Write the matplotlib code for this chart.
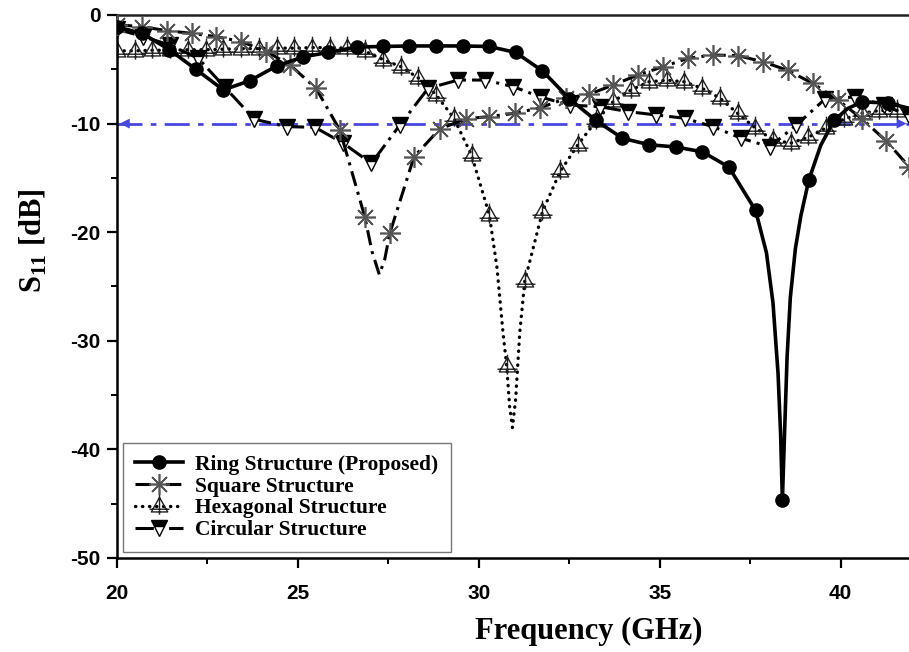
# S11 comparison of the four unit-cell structures
import matplotlib.pyplot as plt
from matplotlib.path import Path
from matplotlib.ticker import MultipleLocator

plt.rcParams['mathtext.fontset'] = 'custom'
plt.rcParams['mathtext.rm'] = 'Liberation Serif:bold'
plt.rcParams['axes.unicode_minus'] = False

# ring structure (proposed)
ring_f = [20.0, 20.7, 21.45, 22.18, 22.94, 23.67, 24.41, 25.15, 25.84, 26.62, 27.34, 28.08,
          28.81, 29.55, 30.29, 31.02, 31.76, 32.5, 33.23, 33.97, 34.71, 35.44, 36.18, 36.91,
          37.65, 37.95, 38.13, 38.27, 38.34, 38.39, 38.45, 38.52, 38.61, 38.75, 38.9, 39.12,
          39.45, 39.82, 40.2, 40.6, 41.31, 41.9]
ring_s = [-1.1, -1.7, -3.2, -5.0, -6.9, -6.05, -4.7, -3.85, -3.45, -2.95, -2.9, -2.85,
          -2.85, -2.85, -2.9, -3.45, -5.15, -7.7, -9.7, -11.35, -11.95, -12.15, -12.6, -14.0,
          -18.0, -21.9, -26.5, -33.0, -38.5, -44.7, -38.5, -31.5, -26.0, -21.5, -18.5, -15.2,
          -12.0, -9.7, -8.6, -8.0, -8.1, -8.6]

# square structure
sq_f = [20.0, 20.68, 21.37, 22.06, 22.75, 23.44, 24.13, 24.78, 25.5, 26.16, 26.85, 27.05,
        27.25, 27.4, 27.54, 28.21, 28.92, 29.64, 30.29, 30.99, 31.69, 32.42, 33.05, 33.71,
        34.4, 35.09, 35.78, 36.47, 37.16, 37.85, 38.54, 39.23, 39.93, 40.6, 41.26, 41.9]
sq_s = [-0.9, -1.07, -1.44, -1.69, -2.0, -2.45, -3.37, -4.6, -6.75, -10.6, -18.6, -21.8,
        -23.9, -22.5, -20.1, -13.05, -10.5, -9.55, -9.36, -9.05, -8.55, -7.67, -7.3, -6.45,
        -5.52, -4.76, -3.99, -3.68, -3.74, -4.3, -5.1, -6.3, -7.83, -9.6, -11.6, -14.0]

# hexagonal structure
hex_f = [20.0, 20.49, 20.98, 21.47, 21.96, 22.45, 22.94, 23.43, 23.92, 24.41, 24.9, 25.39,
         25.88, 26.37, 26.86, 27.35, 27.84, 28.33, 28.82, 29.31, 29.8, 30.29, 30.5, 30.67,
         30.77, 30.85, 30.93, 31.02, 31.13, 31.27, 31.76, 32.25, 32.74, 33.23, 33.72, 34.21,
         34.7, 35.19, 35.68, 36.17, 36.66, 37.15, 37.64, 38.13, 38.62, 39.11, 39.6, 40.09,
         40.58, 41.07, 41.56]
hex_s = [-3.3, -3.3, -3.25, -3.25, -3.2, -3.2, -3.15, -3.1, -3.1, -3.05, -3.05, -3.0,
         -3.0, -3.05, -3.35, -4.1, -4.75, -5.8, -7.35, -9.5, -12.9, -18.4, -23.2, -29.3,
         -32.3, -36.0, -38.0, -35.3, -29.3, -24.5, -18.1, -14.4, -11.95, -9.8, -7.95, -6.9,
         -6.15, -6.0, -6.15, -6.75, -7.65, -9.05, -10.4, -11.5, -11.8, -11.25, -10.4, -9.6,
         -9.05, -8.8, -8.8]

# circular structure
circ_f = [20.0, 20.73, 21.46, 22.25, 22.98, 23.8, 24.69, 25.47, 26.25, 27.03, 27.82, 28.6,
          29.43, 30.17, 30.95, 31.73, 32.51, 33.34, 34.13, 34.89, 35.69, 36.47, 37.26, 38.04,
          38.78, 39.58, 40.4, 41.2, 41.9]
circ_s = [-1.3, -2.0, -2.76, -4.0, -6.66, -9.6, -10.28, -10.34, -11.8, -13.66, -10.13, -6.75,
          -5.99, -5.99, -6.6, -7.58, -8.29, -8.44, -8.9, -9.2, -9.51, -10.28, -11.36, -12.13,
          -10.13, -7.7, -7.55, -8.3, -9.3]

ref_level = -10

# pontos com marcador (os outros so dao forma a curva)
ring_mk = list(range(0, 25)) + [29, 35, 37, 39, 40]
sq_mk = [i for i in range(len(sq_f)) if i not in (11, 12, 13)]
hex_mk = [i for i in range(len(hex_f)) if i not in (22, 23, 25, 26, 27, 28)]

# marcador do hexagono: triangulo aberto com cruz
hex_marker = Path([(0, 1), (-0.9, -0.6), (0.9, -0.6), (0, 1),
                   (0, 1.3), (0, -0.9), (-1.1, -0.3), (1.1, -0.3)],
                  [Path.MOVETO, Path.LINETO, Path.LINETO, Path.CLOSEPOLY,
                   Path.MOVETO, Path.LINETO, Path.MOVETO, Path.LINETO])

fig = plt.figure(figsize=(9.09, 6.52), dpi=100)
ax = fig.add_axes([0.1287, 0.1442, 0.8757, 0.8328])

blue = '#4848e0'
ax.plot([20, 41.9], [ref_level, ref_level], color=blue, lw=2, dashes=(9, 3, 2, 3), zorder=1)
ax.annotate('', xy=(20.0, ref_level), xytext=(20.7, ref_level),
            arrowprops=dict(arrowstyle='-|>', color=blue, lw=0, mutation_scale=18), zorder=1)
ax.annotate('', xy=(41.9, ref_level), xytext=(41.2, ref_level),
            arrowprops=dict(arrowstyle='-|>', color=blue, lw=0, mutation_scale=18), zorder=1)

ax.plot(hex_f, hex_s, color='black', lw=2.4, linestyle=(0, (0.1, 2.0)), dash_capstyle='round',
        marker=hex_marker, markevery=hex_mk, ms=17, mfc='none', mec='#222222', mew=1.0,
        label='Hexagonal Structure', zorder=2)
ax.plot(circ_f, circ_s, color='black', lw=2.2, linestyle=(0, (6, 2, 1, 2)),
        marker='v', fillstyle='top', ms=11, mfc='black', mfcalt='white', mec='black', mew=1.0,
        label='Circular Structure', zorder=3)
ax.plot(sq_f, sq_s, color='black', lw=2.2, linestyle=(0, (5, 2, 1, 2)),
        marker=(8, 2, 0), markevery=sq_mk, ms=15, mec='#555555', mew=1.2,
        label='Square Structure', zorder=4)
ax.plot(ring_f, ring_s, color='black', lw=2.6, marker='o', markevery=ring_mk, ms=9.5,
        label='Ring Structure (Proposed)', zorder=5)

ax.set_xlim(20, 42)
ax.set_ylim(-50, 0)
ax.xaxis.set_major_locator(MultipleLocator(5))
ax.xaxis.set_minor_locator(MultipleLocator(2.5))
ax.yaxis.set_major_locator(MultipleLocator(10))
ax.yaxis.set_minor_locator(MultipleLocator(5))
ax.tick_params(which='major', direction='out', length=7, width=1.6, pad=5)
ax.tick_params(which='minor', direction='out', length=4, width=1.4)
ax.tick_params(axis='x', which='major', pad=12)
for lab in ax.get_xticklabels() + ax.get_yticklabels():
    lab.set_fontfamily('Liberation Sans')
    lab.set_fontweight('bold')
    lab.set_fontsize(15)

for side in ['left', 'bottom', 'top']:
    ax.spines[side].set_linewidth(1.8)
ax.spines['top'].set_color('#222222')
ax.spines['right'].set_visible(False)

ax.set_xlabel('Frequency (GHz)', fontfamily='Liberation Serif', fontweight='bold', fontsize=22)
ax.set_ylabel('S$_{11}$ [dB]', fontfamily='Liberation Serif', fontweight='bold', fontsize=22)
ax.xaxis.set_label_coords(0.593, -0.108)
ax.yaxis.set_label_coords(-0.085, 0.585)

handles, labels = ax.get_legend_handles_labels()
order = [3, 2, 0, 1]
leg = ax.legend([handles[i] for i in order], [labels[i] for i in order],
                loc='lower left', bbox_to_anchor=(0.008, 0.011), borderaxespad=0,
                prop={'family': 'Liberation Serif', 'weight': 'bold', 'size': 15.5},
                handlelength=2.2, labelspacing=0.08, handletextpad=0.6,
                fancybox=False, framealpha=1, edgecolor='#777777', borderpad=0.55)
leg.get_frame().set_linewidth(1.0)

fig.savefig('out.png', dpi=100)
